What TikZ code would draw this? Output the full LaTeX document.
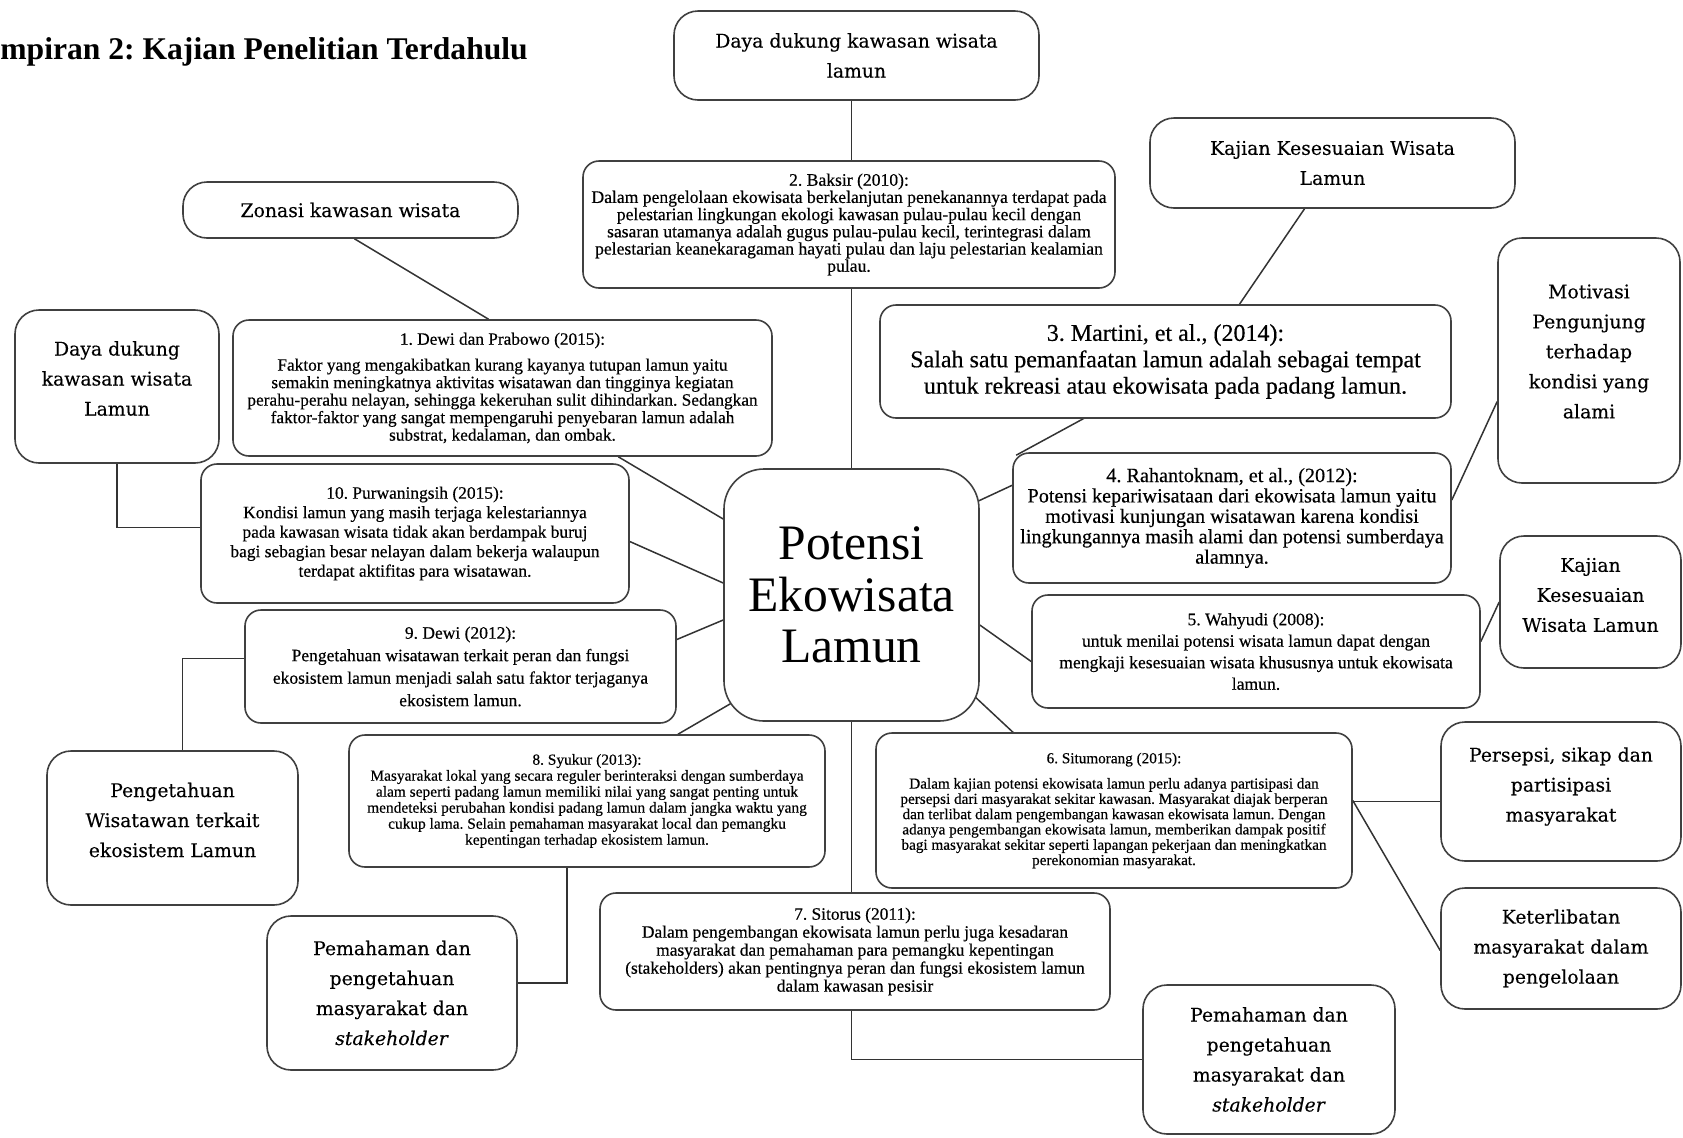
\documentclass[tikz,border=0pt]{standalone}
\usepackage{fontspec}
\setmainfont{Liberation Serif}
\newfontfamily\bigfont[FakeBold=0.3]{DejaVu Serif}
\newfontfamily\litfont[FakeBold=0.4]{Liberation Serif}
\usetikzlibrary{calc,backgrounds}
\begin{document}
\frenchspacing
\begin{tikzpicture}[x=0.5pt,y=-0.5pt,
  box/.style={draw=black!75, line width=0.8pt, rounded corners=8pt, fill=white, align=center, inner sep=0pt},
  bigbox/.style={box, rounded corners=12pt, font={\bigfont\fontsize{9.4}{15}\selectfont}},
  bigtext/.style={align=center, inner sep=0pt, font={\bigfont\fontsize{9.4}{15}\selectfont}},
  sz/.style 2 args={minimum width=#1*0.5pt, minimum height=#2*0.5pt},
  fs/.style 2 args={font={\litfont\fontsize{#1}{#2}\selectfont}},
  conn/.style={draw=black!80, line width=0.75pt}
]
\useasboundingbox (0,0) rectangle (1683,1137);

\node[anchor=west, inner sep=0pt, font={\bfseries\fontsize{15.8}{18}\selectfont}] (title) at (0,52) {mpiran 2: Kajian Penelitian Terdahulu};

% centre
\node[box, rounded corners=20pt, sz={255}{252}, font={\fontsize{24.8}{25.8}\selectfont}] (ctr) at (851.5,595) {Potensi\\Ekowisata\\Lamun};

% big outer boxes
\node[bigbox, sz={365}{89}] (top) at (856.5,55.5) {Daya dukung kawasan wisata\\lamun};
\node[bigbox, sz={335}{56}] (zon) at (350.5,210) {Zonasi kawasan wisata};
\node[bigbox, sz={365}{90}] (kajT) at (1332.5,163) {Kajian Kesesuaian Wisata\\Lamun};
\node[bigbox, sz={204}{153}] (dayaL) at (117,386.5) {};
\node[bigtext] (dayaLt) at ($(dayaL.center)+(0,-8)$) {Daya dukung\\kawasan wisata\\Lamun};
\node[bigbox, sz={182}{245}] (mot) at (1589,360.5) {};
\node[bigtext] (mott) at ($(mot.center)+(0,-9)$) {Motivasi\\Pengunjung\\terhadap\\kondisi yang\\alami};
\node[bigbox, sz={181}{132}] (kajR) at (1590.5,602) {};
\node[bigtext] (kajRt) at ($(kajR.center)+(0,-7)$) {Kajian\\Kesesuaian\\Wisata Lamun};
\node[bigbox, sz={251}{154}] (peng) at (172.5,828) {};
\node[bigtext] (pengt) at ($(peng.center)+(0,-8)$) {Pengetahuan\\Wisatawan terkait\\ekosistem Lamun};
\node[bigbox, sz={240}{139}] (pers) at (1561,791.5) {};
\node[bigtext] (perst) at ($(pers.center)+(0,-5)$) {Persepsi, sikap dan\\partisipasi\\masyarakat};
\node[bigbox, sz={240}{121}] (keter) at (1561,948.5) {Keterlibatan\\masyarakat dalam\\pengelolaan};
\node[bigbox, sz={250}{154}] (pemL) at (392,993) {Pemahaman dan\\pengetahuan\\masyarakat dan\\\textit{stakeholder}};
\node[bigbox, sz={252}{149}] (pemR) at (1269,1059.5) {Pemahaman dan\\pengetahuan\\masyarakat dan\\\textit{stakeholder}};

% literature boxes
\node[box, sz={532}{127}, fs={8.8}{8.6}] (b2) at (849,224.5) {2. Baksir (2010):\\Dalam pengelolaan ekowisata berkelanjutan penekanannya terdapat pada\\pelestarian lingkungan ekologi kawasan pulau-pulau kecil dengan\\sasaran utamanya adalah gugus pulau-pulau kecil, terintegrasi dalam\\pelestarian keanekaragaman hayati pulau dan laju pelestarian kealamian\\pulau.};
\node[box, sz={539}{136}, fs={8.65}{8.75}] (b1) at (502.5,388) {1. Dewi dan Prabowo (2015):\\[4.2pt]Faktor yang mengakibatkan kurang kayanya tutupan lamun yaitu\\semakin meningkatnya aktivitas wisatawan dan tingginya kegiatan\\perahu-perahu nelayan, sehingga kekeruhan sulit dihindarkan. Sedangkan\\faktor-faktor yang sangat mempengaruhi penyebaran lamun adalah\\substrat, kedalaman, dan ombak.};
\node[box, sz={571}{113}, fs={12}{13.2}] (b3) at (1165.5,361.5) {3. Martini, et al., (2014):\\Salah satu pemanfaatan lamun adalah sebagai tempat\\untuk rekreasi atau ekowisata pada padang lamun.};
\node[box, sz={438}{130}, fs={10.1}{10.2}] (b4) at (1232,518) {4. Rahantoknam, et al., (2012):\\Potensi kepariwisataan dari ekowisata lamun yaitu\\motivasi kunjungan wisatawan karena kondisi\\lingkungannya masih alami dan potensi sumberdaya\\alamnya.};
\node[box, sz={428}{139}, fs={8.7}{9.75}] (b10) at (415,533.5) {10. Purwaningsih (2015):\\Kondisi lamun yang masih terjaga kelestariannya\\pada kawasan wisata tidak akan berdampak buruj\\bagi sebagian besar nelayan dalam bekerja walaupun\\terdapat aktifitas para wisatawan.};
\node[box, sz={448}{113}, fs={8.8}{10.75}] (b5) at (1256,651.5) {5. Wahyudi (2008):\\untuk menilai potensi wisata lamun dapat dengan\\mengkaji kesesuaian wisata khususnya untuk ekowisata\\lamun.};
\node[box, sz={431}{113}, fs={8.75}{11.25}] (b9) at (460.5,666.5) {9. Dewi (2012):\\Pengetahuan wisatawan terkait peran dan fungsi\\ekosistem lamun menjadi salah satu faktor terjaganya\\ekosistem lamun.};
\node[box, sz={476}{132}, fs={7.7}{8}] (b8) at (587,801) {8. Syukur (2013):\\Masyarakat lokal yang secara reguler berinteraksi dengan sumberdaya\\alam seperti padang lamun memiliki nilai yang sangat penting untuk\\mendeteksi perubahan kondisi padang lamun dalam jangka waktu yang\\cukup lama. Selain pemahaman masyarakat local dan pemangku\\kepentingan terhadap ekosistem lamun.};
\node[box, sz={476}{155}, fs={7.6}{7.65}] (b6) at (1114,810.5) {6. Situmorang (2015):\\[5pt]Dalam kajian potensi ekowisata lamun perlu adanya partisipasi dan\\persepsi dari masyarakat sekitar kawasan. Masyarakat diajak berperan\\dan terlibat dalam pengembangan kawasan ekowisata lamun. Dengan\\adanya pengembangan ekowisata lamun, memberikan dampak positif\\bagi masyarakat sekitar seperti lapangan pekerjaan dan meningkatkan\\perekonomian masyarakat.};
\node[box, sz={510}{117}, fs={8.7}{9}] (b7) at (855,951.5) {7. Sitorus (2011):\\Dalam pengembangan ekowisata lamun perlu juga kesadaran\\masyarakat dan pemahaman para pemangku kepentingan\\(stakeholders) akan pentingnya peran dan fungsi ekosistem lamun\\dalam kawasan pesisir};

\begin{pgfonlayer}{background}
\draw[conn] (top.south -| ctr.north) -- (ctr.north);
\draw[conn] (ctr.south) -- (ctr.south |- b7.north);
\draw[conn] (ctr.south |- b7.south) |- (pemR.west);
\draw[conn] ($(zon.south)+(4,0)$) -- ($(b1.north)+(-14,0)$);
\draw[conn] (b1) -- (ctr);
\draw[conn] (dayaL.south) |- ($(b10.west)+(0,-6)$);
\draw[conn] ($(b10.east)+(0,8)$) -- ($(ctr.west)+(0,-12)$);
\draw[conn] ($(b9.east)+(0,-27)$) -- ($(ctr.west)+(0,25)$);
\draw[conn] ($(b9.west)+(0,-8)$) -| ($(peng.north)+(10,0)$);
\draw[conn] ($(b8.north)+(91,0)$) -- ($(ctr.center)+(-51,68)$);
\draw[conn] ($(b8.south)+(-20,0)$) |- ($(pemL.east)+(0,-10)$);
\draw[conn] ($(ctr.east)+(-10,-90)$) -- ($(b4.west)+(7,-36)$);
\draw[conn] ($(b3.south)+(-75,-4)$) -- ($(b4.north west)+(4,3)$);
\draw[conn] ($(kajT.south)+(-28,0)$) -- ($(b3.north)+(74,0)$);
\draw[conn] ($(b4.east)+(0,-18)$) -- ($(mot.west)+(0,41)$);
\draw[conn] ($(b5.east)+(0,-10)$) -- (kajR.west);
\draw[conn] ($(ctr.east)+(0,30)$) -- ($(b5.west)+(0,10)$);
\draw[conn] ($(ctr.center)+(113,92)$) -- ($(b6.north west)+(142,4)$);
\draw[conn] ($(b6.east)+(0,-9)$) -- ($(pers.west)+(0,10)$);
\draw[conn] ($(b6.east)+(0,-10)$) -- ($(keter.west)+(0,2)$);
\end{pgfonlayer}
\end{tikzpicture}
\end{document}
